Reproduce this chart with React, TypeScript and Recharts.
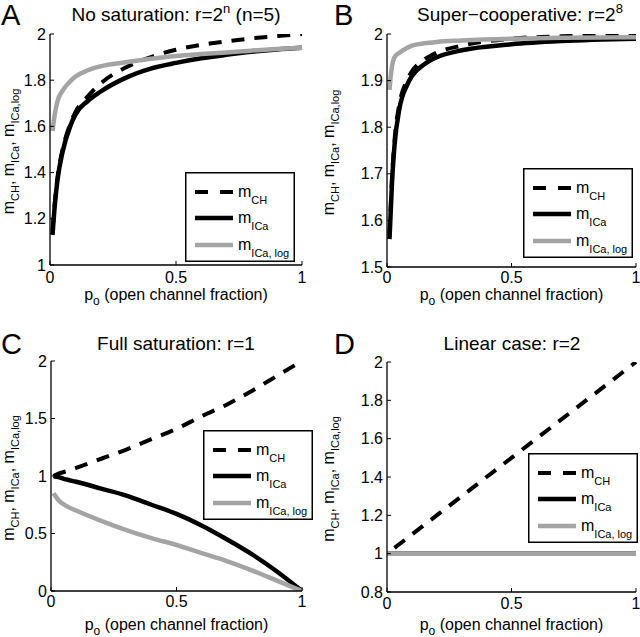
import { LineChart, Line, XAxis, YAxis, Legend } from 'recharts';

const FONT = '"Liberation Sans", Arial, Helvetica, sans-serif';
const GRAY = '#a4a4a4';

// A: no saturation, r = 2^n (n = 5)
const poA = [0.01, 0.02, 0.03, 0.05, 0.08, 0.1, 0.15, 0.2, 0.3, 0.4, 0.5, 0.6, 0.7, 0.8, 0.9, 1];
const chA = [1.15, 1.28, 1.38, 1.5, 1.61, 1.66, 1.73, 1.785, 1.855, 1.9, 1.932, 1.953, 1.968, 1.981, 1.991, 2.0];
const icaA = [1.13, 1.27, 1.37, 1.49, 1.6, 1.65, 1.71, 1.75, 1.81, 1.85, 1.875, 1.895, 1.91, 1.923, 1.933, 1.94];
const logA = [1.58, 1.66, 1.71, 1.755, 1.795, 1.815, 1.843, 1.86, 1.878, 1.893, 1.905, 1.913, 1.92, 1.928, 1.935, 1.94];

// B: super-cooperative, r = 2^8
const poB = [0.01, 0.015, 0.02, 0.03, 0.05, 0.08, 0.1, 0.15, 0.2, 0.3, 0.5, 0.7, 1];
const chB = [1.57, 1.63, 1.69, 1.77, 1.85, 1.9, 1.92, 1.945, 1.96, 1.975, 1.99, 1.995, 2.0];
const icaB = [1.56, 1.62, 1.68, 1.76, 1.84, 1.89, 1.91, 1.935, 1.95, 1.965, 1.978, 1.985, 1.99];
const logB = [1.88, 1.91, 1.93, 1.95, 1.96, 1.97, 1.975, 1.98, 1.983, 1.986, 1.99, 1.992, 1.993];

// C: full saturation, r = 1
const poC = [0.01, 0.03, 0.06, 0.1, 0.2, 0.3, 0.4, 0.5, 0.6, 0.7, 0.8, 0.9, 1];
const chC = [1.0, 1.02, 1.04, 1.07, 1.15, 1.23, 1.32, 1.41, 1.52, 1.62, 1.74, 1.87, 2.0];
const icaC = [1.0, 0.99, 0.97, 0.95, 0.89, 0.83, 0.75, 0.67, 0.57, 0.45, 0.32, 0.17, 0.0];
const logC = [0.85, 0.79, 0.74, 0.7, 0.61, 0.53, 0.46, 0.4, 0.33, 0.26, 0.18, 0.09, 0.0];

// D: linear case, r = 2
const poD = [0, 0.03, 0.5, 1];
const chD = [null, 1.03, 1.5, 2.0];
const icaD = [1, 1, 1, 1];
const logD = [1, 1, 1, 1];

const xTicks = [0, 0.5, 1];
const yTicksA = [1, 1.2, 1.4, 1.6, 1.8, 2];
const yTicksB = [1.5, 1.6, 1.7, 1.8, 1.9, 2];
const yTicksC = [0, 0.5, 1, 1.5, 2];
const yTicksD = [0.8, 1, 1.2, 1.4, 1.6, 1.8, 2];

type Row = { po: number; ch: number | null; ica: number; log: number };
const toRows = (po: number[], ch: (number | null)[], ica: number[], log: number[]): Row[] =>
  po.map((p, i) => ({ po: p, ch: ch[i], ica: ica[i], log: log[i] }));

function LegendBox() {
  return (
    <svg width={110} height={90} style={{ display: 'block', fontFamily: FONT }}>
      <rect x={0.75} y={0.75} width={108.5} height={88.5} fill="#fff" stroke="#000" strokeWidth={1.5} />
      <line x1={10} x2={48} y1={20} y2={20} stroke="#000" strokeWidth={4} strokeDasharray="13 12" />
      <line x1={10} x2={48} y1={46} y2={46} stroke="#000" strokeWidth={4.5} />
      <line x1={10} x2={48} y1={73} y2={73} stroke={GRAY} strokeWidth={4.5} />
      <text x={53} y={25} fontSize={16}>
        m<tspan dy={7} fontSize={11}>CH</tspan>
      </text>
      <text x={53} y={51} fontSize={16}>
        m<tspan dy={7} fontSize={11}>ICa</tspan>
      </text>
      <text x={53} y={78} fontSize={16}>
        m<tspan dy={7} fontSize={11}>ICa, log</tspan>
      </text>
    </svg>
  );
}

type PanelProps = {
  left: number;
  top: number;
  height: number;
  data: Row[];
  domain: [number, number];
  yTicks: number[];
  yWidth: number;
  marginTop: number;
  marginRight: number;
  xHeight: number;
  tickGap: number;
  legendPos: { left: number; top: number };
  letter: string;
  letterX: number;
  titleX: number;
  titleY: number;
  title: React.ReactNode;
  xLabelY: number;
};

function Panel(p: PanelProps) {
  const plotTop = p.marginTop;
  const plotBottom = p.height - p.xHeight;
  const plotLeft = p.yWidth;
  const plotRight = 320 - p.marginRight;
  const cx = (plotLeft + plotRight) / 2;
  const cy = (plotTop + plotBottom) / 2;
  return (
    <div style={{ position: 'absolute', left: p.left, top: p.top, width: 320, height: p.height }}>
      <svg
        width={320}
        height={p.height}
        style={{ position: 'absolute', left: 0, top: 0, fontFamily: FONT, pointerEvents: 'none' }}
      >
        <text x={p.letterX} y={p.titleY + 4} fontSize={29}>{p.letter}</text>
        <text x={p.titleX} y={p.titleY} fontSize={19} textAnchor="middle">{p.title}</text>
        <text transform={`translate(14, ${cy + 2}) rotate(-90)`} fontSize={16} textAnchor="middle">
          m<tspan dy={5} fontSize={11}>CH</tspan>
          <tspan dy={-5}>, m</tspan>
          <tspan dy={5} fontSize={11}>ICa</tspan>
          <tspan dy={-5}>, m</tspan>
          <tspan dy={5} fontSize={11}>ICa,log</tspan>
        </text>
        <text x={cx} y={p.xLabelY} fontSize={16} textAnchor="middle">
          p<tspan dy={5} fontSize={12}>o</tspan>
          <tspan dy={-5}> (open channel fraction)</tspan>
        </text>
      </svg>
      <LineChart
        width={320}
        height={p.height}
        data={p.data}
        margin={{ top: p.marginTop, right: p.marginRight, bottom: 0, left: 0 }}
        style={{ fontFamily: FONT }}
      >
        <XAxis
          dataKey="po"
          type="number"
          domain={[0, 1]}
          ticks={xTicks}
          height={p.xHeight}
          tickLine={{ stroke: '#000', strokeWidth: 1 }}
          tickSize={-4}
          tickMargin={p.tickGap + 4}
          axisLine={{ stroke: '#000', strokeWidth: 1.3 }}
          tick={{ fontSize: 16, fill: '#000' }}
        />
        <YAxis
          type="number"
          domain={p.domain}
          ticks={p.yTicks}
          width={p.yWidth}
          tickLine={{ stroke: '#000', strokeWidth: 1 }}
          tickSize={-4}
          tickMargin={8}
          axisLine={{ stroke: '#000', strokeWidth: 1.3 }}
          tick={{ fontSize: 16, fill: '#000' }}
          allowDataOverflow
        />
        <Line type="monotone" dataKey="ch" stroke="#000" strokeWidth={4} strokeDasharray="13 10" dot={false} isAnimationActive={false} />
        <Line type="monotone" dataKey="ica" stroke="#000" strokeWidth={4.5} dot={false} isAnimationActive={false} />
        <Line type="monotone" dataKey="log" stroke={GRAY} strokeWidth={4.5} dot={false} isAnimationActive={false} />
        <Legend
          layout="vertical"
          align="center"
          verticalAlign="middle"
          content={() => <LegendBox />}
          wrapperStyle={{ left: p.legendPos.left, top: p.legendPos.top, width: 110, height: 90 }}
        />
      </LineChart>
    </div>
  );
}

export default function App() {
  return (
    <div style={{ position: 'absolute', left: 0, top: 0, width: 640, height: 637, background: '#fff', fontFamily: FONT }}>
      <Panel
        left={0}
        top={0}
        height={318}
        data={toRows(poA, chA, icaA, logA)}
        domain={[1, 2]}
        yTicks={yTicksA}
        yWidth={50}
        marginTop={34}
        marginRight={18}
        xHeight={53}
        tickGap={7}
        legendPos={{ left: 185, top: 172 }}
        letter="A"
        letterX={1}
        titleX={176}
        titleY={21}
        title={<>No saturation: r=2<tspan dy={-8} fontSize={13}>n</tspan><tspan dy={8}> (n=5)</tspan></>}
        xLabelY={300}
      />
      <Panel
        left={320}
        top={0}
        height={318}
        data={toRows(poB, chB, icaB, logB)}
        domain={[1.5, 2]}
        yTicks={yTicksB}
        yWidth={67}
        marginTop={34}
        marginRight={4}
        xHeight={51}
        tickGap={5}
        legendPos={{ left: 203, top: 168 }}
        letter="B"
        letterX={14}
        titleX={200}
        titleY={21}
        title={<>Super−cooperative: r=2<tspan dy={-8} fontSize={13}>8</tspan></>}
        xLabelY={300}
      />
      <Panel
        left={0}
        top={318}
        height={319}
        data={toRows(poC, chC, icaC, logC)}
        domain={[0, 2]}
        yTicks={yTicksC}
        yWidth={51}
        marginTop={43}
        marginRight={18}
        xHeight={46}
        tickGap={5}
        legendPos={{ left: 203, top: 112 }}
        letter="C"
        letterX={1}
        titleX={176}
        titleY={32}
        title={<>Full saturation: r=1</>}
        xLabelY={312}
      />
      <Panel
        left={320}
        top={318}
        height={319}
        data={toRows(poD, chD, icaD, logD)}
        domain={[0.8, 2]}
        yTicks={yTicksD}
        yWidth={67}
        marginTop={44}
        marginRight={4}
        xHeight={45}
        tickGap={6}
        legendPos={{ left: 208, top: 135 }}
        letter="D"
        letterX={14}
        titleX={192}
        titleY={32}
        title={<>Linear case: r=2</>}
        xLabelY={312}
      />
    </div>
  );
}
